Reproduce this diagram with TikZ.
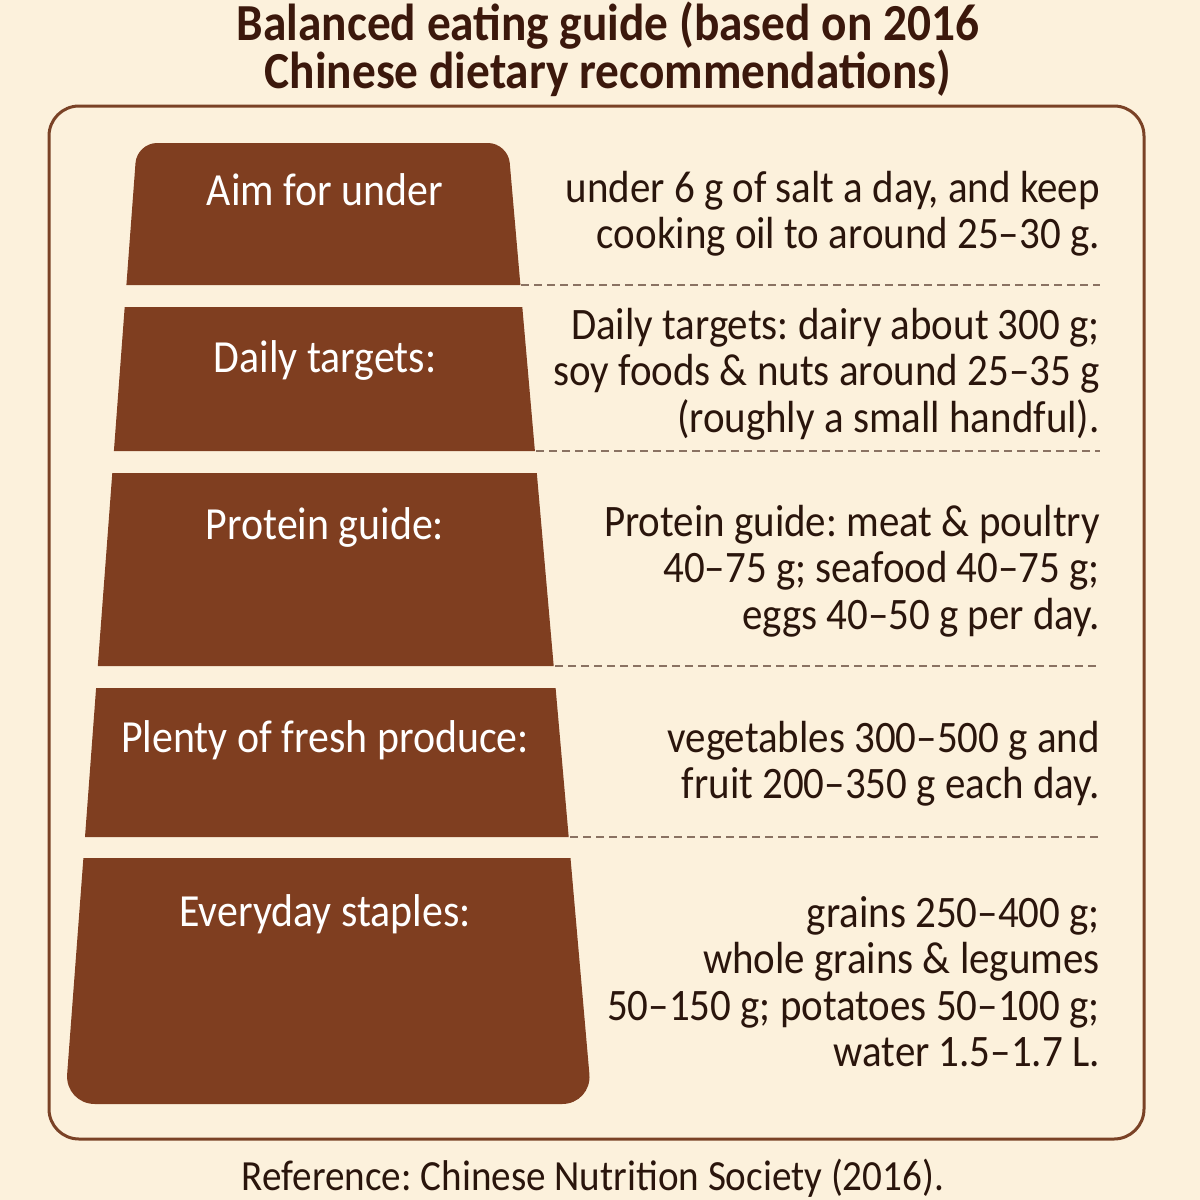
\documentclass[tikz,border=0pt]{standalone}
\usepackage{fontspec}
\setmainfont{Carlito}[FakeStretch=0.91]
\definecolor{bg}{HTML}{FCF1DC}
\definecolor{tierc}{HTML}{7F3E20}
\definecolor{framec}{HTML}{7A4226}
\definecolor{titlec}{HTML}{3B180C}
\definecolor{txtc}{HTML}{2A150C}
\definecolor{dashc}{HTML}{8A7262}
\begin{document}
\frenchspacing
\begin{tikzpicture}[x=1pt,y=-1pt,
  tierfill/.style={fill=tierc},
  tierlabel/.style={text=white,font=\fontsize{46}{46}\selectfont,anchor=base,inner sep=0pt},
  desc/.style={text=txtc,font=\fontsize{45}{46.5}\selectfont,align=right,anchor=north east,inner sep=0pt},
  sep/.style={draw=dashc,line width=1.6pt,dash pattern=on 8pt off 5pt},
  titlestyle/.style={text=titlec,font=\bfseries\fontsize{52}{48}\selectfont,align=center,inner sep=0pt}]
\fill[bg] (0,0) rectangle (1200,1200);
\useasboundingbox (0,0) rectangle (1200,1200);
% title
\node[titlestyle] (title) at (608,49) {Balanced eating guide (based on 2016\\Chinese dietary recommendations)};
% frame
\draw[framec,line width=3pt,rounded corners=30pt] (49,106) rectangle (1144,1139);
% tiers
\fill[tierfill] (126.4,285) [rounded corners=20pt]-- (137,143) -- (508,143) [sharp corners]-- (520.4,285) -- cycle;
\fill[tierfill] (124.7,307) -- (522.3,307) -- (534.9,451) -- (113.9,451) -- cycle;
\fill[tierfill] (112.3,473) -- (536.8,473) -- (553.7,666) -- (97.8,666) -- cycle;
\fill[tierfill] (96.1,688) -- (555.6,688) -- (568.7,837) -- (85,837) -- cycle;
\fill[tierfill] (570.5,858) [rounded corners=30pt]-- (592,1104) -- (64.9,1104) [sharp corners]-- (83.4,858) -- cycle;
% tier labels
\node[tierlabel] (l1) at (325,205) {Aim for under};
\node[tierlabel] (l2) at (325,372) {Daily targets:};
\node[tierlabel] (l3) at (325,539) {Protein guide:};
\node[tierlabel] (l4) at (325,752) {Plenty of fresh produce:};
\node[tierlabel] (l5) at (325,926) {Everyday staples:};
% separators
\coordinate (s1a) at (521,285); \coordinate (s1b) at (1100,285);
\coordinate (s2a) at (536,451); \coordinate (s2b) at (1100,451);
\coordinate (s3a) at (555,666); \coordinate (s3b) at (1100,666);
\coordinate (s4a) at (570,837); \coordinate (s4b) at (1100,837);
\draw[sep] (s1a) -- (s1b);
\draw[sep] (s2a) -- (s2b);
\draw[sep] (s3a) -- (s3b);
\draw[sep] (s4a) -- (s4b);
% descriptions
\node[desc] (d1) at (1100,171) {under 6 g of salt a day, and keep\\cooking oil to around 25--30 g.};
\node[desc] (d2) at (1100,308) {Daily targets: dairy about 300 g;\\soy foods \& nuts around 25--35 g\\(roughly a small handful).};
\node[desc] (d3) at (1100,505) {Protein guide: meat \& poultry\\40--75 g; seafood 40--75 g;\\eggs 40--50 g per day.};
\node[desc] (d4) at (1100,721) {vegetables 300--500 g and\\fruit 200--350 g each day.};
\node[desc] (d5) at (1100,896) {grains 250--400 g;\\whole grains \& legumes\\50--150 g; potatoes 50--100 g;\\water 1.5--1.7 L.};
% footer
\node[text=txtc,font=\fontsize{43}{46}\selectfont,inner sep=0pt] (foot) at (593,1178) {Reference: Chinese Nutrition Society (2016).};
\end{tikzpicture}
\end{document}
